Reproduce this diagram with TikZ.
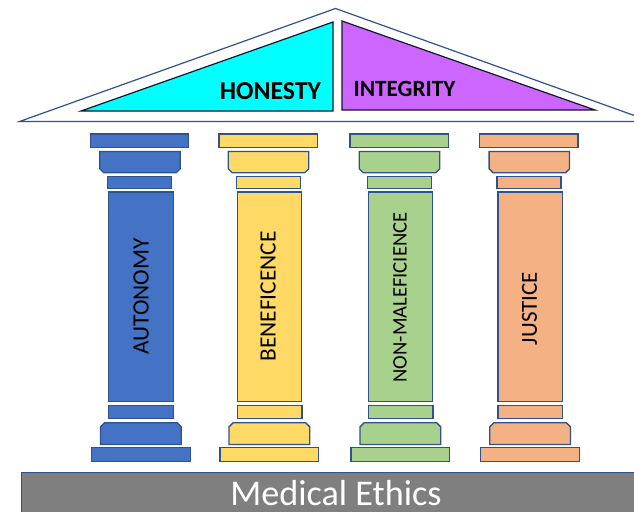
\documentclass[tikz,border=0pt]{standalone}
\usepackage{fontspec}
\setmainfont{Carlito}
\definecolor{edge}{HTML}{2F528F}
\definecolor{cblue}{HTML}{4472C4}
\definecolor{cyellow}{HTML}{FFD966}
\definecolor{cgreen}{HTML}{A9D18E}
\definecolor{corange}{HTML}{F4B183}
\definecolor{cgrey}{HTML}{7F7F7F}
\definecolor{ccyan}{HTML}{00FFFF}
\definecolor{cpurple}{HTML}{CC66FF}
\tikzset{x=1pt,y=-1pt,
 part/.style={draw=edge,line width=1.35pt,line join=miter},
 roofline/.style={draw=edge,line width=1.2pt,line join=miter},
 pillartext/.style={rotate=90,text=black,inner sep=0pt},
 rooftext/.style={anchor=base,font=\bfseries,text=black,inner sep=0pt}}
\newcommand{\pillar}[2]{%
 \begin{scope}[xshift=#1pt]
 \path[part,fill=#2] (90.5,134) rectangle (188.8,147.8);
 \path[part,fill=#2] (99.8,151.5) -- (180.2,151.5) -- (180.2,168.8) -- (176.2,172.8) -- (103.8,172.8) -- (99.8,168.8) -- cycle;
 \path[part,fill=#2] (107.8,176.2) rectangle (171.8,188.5);
 \path[part,fill=#2] (108.8,192) rectangle (173.2,401.8);
 \path[part,fill=#2] (108.8,405.5) rectangle (173.5,418.5);
 \path[part,fill=#2] (104.5,422.8) -- (177.2,422.8) -- (181.2,426.8) -- (181.2,444.5) -- (100.5,444.5) -- (100.5,426.8) -- cycle;
 \path[part,fill=#2] (91.5,447.2) rectangle (190.2,461.2);
 \end{scope}}
\begin{document}
\begin{tikzpicture}
\useasboundingbox (0,0) rectangle (634,511);
\begin{scope}
\clip (0,0) rectangle (634,511);
\path[roofline] (19.5,121.5) -- (335.5,8.5) -- (651,121.5) -- cycle;
\path[draw=edge,line width=1.2pt,fill=cgrey] (21.2,472.2) rectangle (650,530);
\end{scope}
\node[anchor=base,font=\fontsize{36.2}{36.2}\selectfont,text=white,inner sep=0pt] (title) at (336,505) {Medical Ethics};
\path[draw=black!70!edge,line width=1.2pt,fill=ccyan] (81,111) -- (333,22) -- (333,111) -- cycle;
\path[draw=black!70!edge,line width=1.2pt,fill=cpurple] (342,21) -- (595,110) -- (342,110) -- cycle;
\node[rooftext,font=\fontsize{25.8}{25.8}\selectfont\bfseries] (honesty) at (270.5,99) {HONESTY};
\node[rooftext,font=\fontsize{23.3}{23.3}\selectfont\bfseries] (integrity) at (404.5,96) {INTEGRITY};
\pillar{0}{cblue}
\pillar{128.5}{cyellow}
\pillar{259.5}{cgreen}
\pillar{389.3}{corange}
\node[pillartext,font=\fontsize{23.4}{23.4}\selectfont] (p1) at (141,296.7) {AUTONOMY};
\node[pillartext,font=\fontsize{23.4}{23.4}\selectfont] (p2) at (268,296.5) {BENEFICENCE};
\node[pillartext,font=\fontsize{20.6}{20.6}\selectfont] (p3) at (400,297.5) {NON-MALEFICIENCE};
\node[pillartext,font=\fontsize{23}{23}\selectfont] (p4) at (529.5,308.5) {JUSTICE};
\end{tikzpicture}
\end{document}
